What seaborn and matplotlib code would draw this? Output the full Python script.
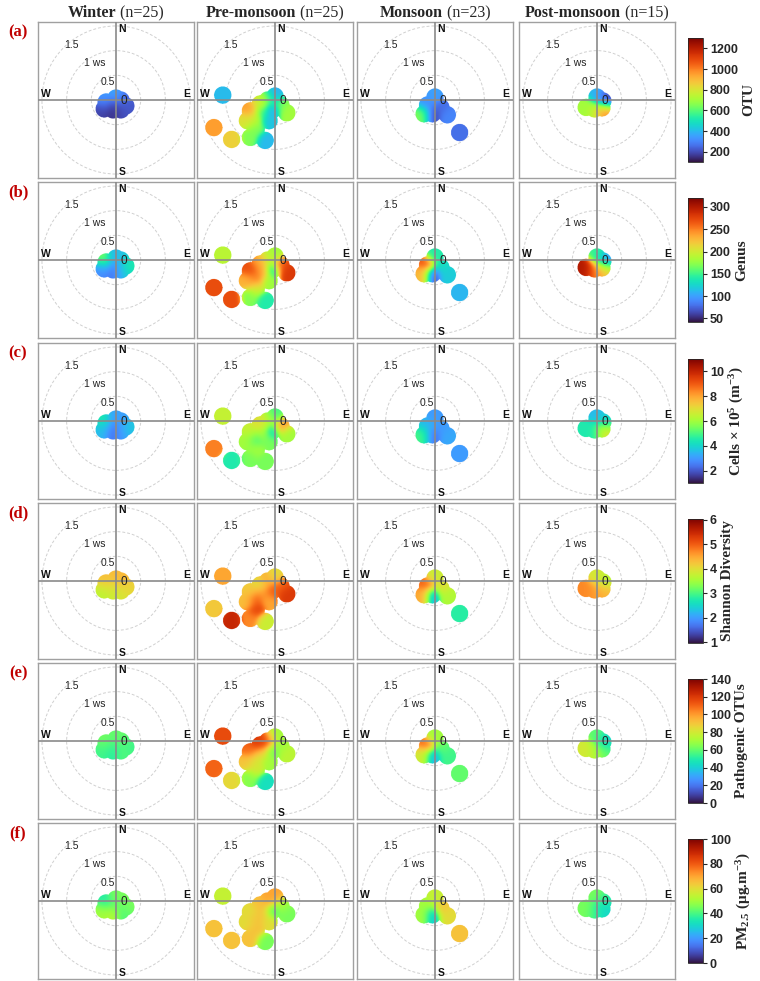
import numpy as np
import seaborn as sns
import matplotlib.pyplot as plt

sns.set_theme(style="white")
plt.rcParams['font.family'] = ['Liberation Sans', 'DejaVu Sans']
plt.rcParams['mathtext.fontset'] = 'custom'
plt.rcParams['mathtext.rm'] = 'Liberation Serif:bold'
plt.rcParams['mathtext.default'] = 'rm'

# seasons and sample counts
seasons = ["Winter", "Pre-monsoon", "Monsoon", "Post-monsoon"]
n_samples = [25, 25, 23, 15]

# blob centres (u = east, v = north, in ws units) per season
winter_u = [0.00, -0.20, -0.24, -0.06, 0.10, 0.20, 0.10, -0.05]
winter_v = [0.04, -0.04, -0.18, -0.20, -0.20, -0.12, 0.00, -0.10]
pre_u = [-1.06, -1.24, -0.88, -0.50, -0.20, 0.24, -0.50, -0.40, -0.30, -0.15, 0.00, -0.05, -0.12, -0.38, 0.12, -0.25, -0.56]
pre_v = [0.10, -0.56, -0.80, -0.76, -0.82, -0.26, -0.22, -0.38, -0.08, 0.00, 0.08, -0.20, -0.42, -0.58, -0.10, -0.25, -0.42]
mon_u = [0.00, -0.15, -0.22, -0.05, 0.12, 0.25, 0.50]
mon_v = [0.06, -0.10, -0.28, -0.28, -0.15, -0.30, -0.66]
post_u = [-0.22, -0.05, 0.00, 0.12, 0.10]
post_v = [-0.15, -0.18, 0.06, -0.02, -0.16]

# values per variable: [winter, pre-monsoon, monsoon, post-monsoon]
otu = [[380, 340, 180, 150, 200, 220, 250, 170],
       [400, 950, 850, 650, 400, 700, 950, 750, 800, 650, 380, 360, 420, 650, 650, 550, 800],
       [350, 320, 650, 180, 250, 300, 260],
       [700, 750, 400, 130, 1000]]
genus = [[110, 170, 90, 80, 110, 140, 120, 90],
         [190, 270, 270, 170, 140, 280, 270, 250, 240, 200, 180, 130, 180, 200, 270, 240, 230],
         [140, 270, 230, 60, 130, 120, 110],
         [300, 260, 150, 90, 220]]
cells = [[3.2, 4.5, 3.5, 2.3, 3.0, 3.8, 3.0, 2.5],
         [6.5, 8.5, 4.5, 5.5, 5.5, 6.0, 6.5, 5.0, 7.0, 6.5, 5.0, 4.0, 5.5, 6.0, 8.5, 6.0, 6.0],
         [3.0, 3.5, 5.0, 2.3, 3.0, 3.2, 3.0],
         [4.5, 4.5, 3.5, 4.0, 7.0]]
shannon = [[4.3, 4.3, 3.7, 3.8, 3.9, 4.1, 4.4, 4.0],
           [4.5, 4.2, 5.5, 4.7, 3.8, 5.3, 4.2, 5.0, 4.0, 4.5, 4.0, 5.0, 4.5, 5.2, 5.0, 4.6, 4.3],
           [3.8, 5.0, 4.5, 2.0, 4.0, 3.6, 2.8],
           [4.7, 4.6, 3.9, 3.6, 4.4]]
pathogen = [[60, 62, 55, 50, 58, 55, 60, 55],
            [115, 110, 85, 65, 45, 75, 110, 80, 120, 115, 70, 60, 70, 80, 70, 85, 90],
            [70, 110, 80, 30, 60, 55, 60],
            [80, 75, 60, 40, 60]]
pm25 = [[45, 35, 50, 55, 40, 45, 45, 40],
        [55, 65, 65, 65, 45, 45, 60, 65, 65, 70, 70, 40, 60, 65, 50, 65, 60],
        [55, 50, 50, 25, 65, 60, 65],
        [45, 40, 45, 35, 30]]

row_labels = ["(a)", "(b)", "(c)", "(d)", "(e)", "(f)"]
cbar_labels = ["OTU", "Genus", r"Cells × 10$^{5}$ (m$^{-3}$)", "Shannon Diversity",
               "Pathogenic OTUs", r"PM$_{2.5}$ (μg.m$^{-3}$)"]
cbar_ranges = [(100, 1300), (42, 320), (1, 11), (0.97, 6.03), (0, 140), (0, 100)]
cbar_ticks = [[200, 400, 600, 800, 1000, 1200], [50, 100, 150, 200, 250, 300],
              [2, 4, 6, 8, 10], [1, 2, 3, 4, 5, 6],
              [0, 20, 40, 60, 80, 100, 120, 140], [0, 20, 40, 60, 80, 100]]

variables = [otu, genus, cells, shannon, pathogen, pm25]
positions = [(winter_u, winter_v), (pre_u, pre_v), (mon_u, mon_v), (post_u, post_v)]

cmap = sns.color_palette("turbo", as_cmap=True).copy()
cmap.set_bad((1, 1, 1, 0))

W, H = 760, 981
fig = plt.figure(figsize=(W / 100, H / 100), dpi=100)

LIM = 1.58
g = np.linspace(-LIM, LIM, 500)
GX, GY = np.meshgrid(g, g)
BLOB_R = 0.18
SIGMA = 0.10


def surface(u, v, vals):
    u = np.asarray(u)[:, None, None]
    v = np.asarray(v)[:, None, None]
    vals = np.asarray(vals, dtype=float)[:, None, None]
    d2 = (GX[None] - u) ** 2 + (GY[None] - v) ** 2
    w = np.exp(-d2 / (2 * SIGMA ** 2)) + 1e-12
    z = (w * vals).sum(0) / w.sum(0)
    mask = np.sqrt(d2.min(0)) > BLOB_R
    return np.ma.masked_array(z, mask)


col_left = [38, 197, 357, 519]
row_top = [22, 182, 343, 503, 663, 823]
size = 156

for r, var in enumerate(variables):
    vmin, vmax = cbar_ranges[r]
    for c in range(4):
        ax = fig.add_axes([col_left[c] / W, 1 - (row_top[r] + size) / H, size / W, size / H])
        ax.set_xlim(-LIM, LIM)
        ax.set_ylim(-LIM, LIM)
        ax.set_aspect("equal")
        ax.set_xticks([])
        ax.set_yticks([])
        for s in ax.spines.values():
            s.set_color("#a0a0a0")
            s.set_linewidth(1.0)
        for rr in [0.5, 1.0, 1.5]:
            ax.add_patch(plt.Circle((0, 0), rr, fill=False, color="#d0d0d0",
                                    lw=0.7, ls=(0, (3, 2)), zorder=1))
        u, v = positions[c]
        z = surface(u, v, var[c])
        ax.imshow(z, extent=(-LIM, LIM, -LIM, LIM), origin="lower", cmap=cmap,
                  vmin=vmin, vmax=vmax, interpolation="antialiased", zorder=2)
        ax.axhline(0, color="#8a8a8a", lw=1.2, zorder=3)
        ax.axvline(0, color="#8a8a8a", lw=1.2, zorder=3)
        kw = dict(fontsize=7.5, fontweight="bold", color="#111111", zorder=4)
        ax.text(0.05, 1.43, "N", ha="left", va="center", **kw)
        ax.text(0.05, -1.45, "S", ha="left", va="center", **kw)
        ax.text(1.50, 0.03, "E", ha="right", va="bottom", **kw)
        ax.text(-1.52, 0.03, "W", ha="left", va="bottom", **kw)
        lk = dict(fontsize=7.5, color="#222222", ha="center", va="center", zorder=4)
        ax.text(-0.90, 1.12, "1.5", **lk)
        ax.text(-0.44, 0.74, "1 ws", **lk)
        ax.text(-0.16, 0.36, "0.5", **lk)
        ax.text(0.16, -0.02, "0", fontsize=8.5, color="#222222", ha="center",
                va="center", zorder=4)

    # colorbar
    cax = fig.add_axes([688 / W, 1 - (row_top[r] + 16 + 124) / H, 15 / W, 124 / H])
    sm = plt.cm.ScalarMappable(cmap=cmap, norm=plt.Normalize(vmin, vmax))
    cb = fig.colorbar(sm, cax=cax)
    cb.set_ticks(cbar_ticks[r])
    cb.outline.set_linewidth(0.6)
    cax.tick_params(labelsize=9, length=3, width=0.8, pad=2)
    for t in cax.get_yticklabels():
        t.set_fontweight("bold")
    cb.set_label(cbar_labels[r], family="Liberation Serif", fontweight="bold",
                 fontsize=11, labelpad=3)

    fig.text(18 / W, 1 - (row_top[r] + 10) / H, row_labels[r], color="#c00000",
             family="Liberation Serif", fontweight="bold", fontsize=12,
             ha="center", va="center")

# season titles, bold name + regular count
renderer = fig.canvas.get_renderer()
for c in range(4):
    cx = (col_left[c] + size / 2) / W
    ty = 1 - 13 / H
    t1 = fig.text(0, ty, seasons[c], family="Liberation Serif", fontweight="bold",
                  fontsize=11.5, va="center")
    t2 = fig.text(0, ty, f" (n={n_samples[c]})", family="Liberation Serif",
                  fontsize=11.5, va="center")
    w1 = t1.get_window_extent(renderer).width / W
    w2 = t2.get_window_extent(renderer).width / W
    start = cx - (w1 + w2) / 2
    t1.set_x(start)
    t2.set_x(start + w1)

fig.savefig("out.png", dpi=100)
